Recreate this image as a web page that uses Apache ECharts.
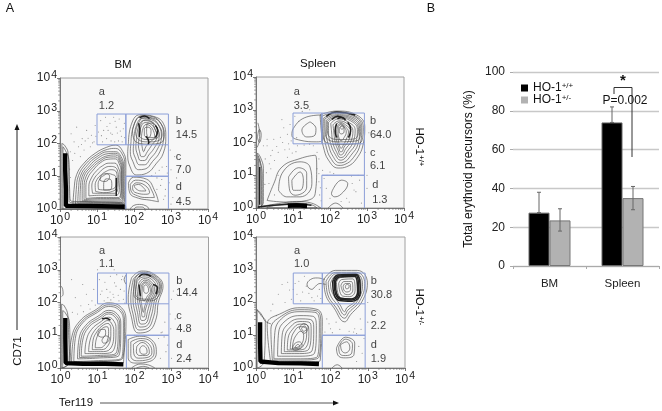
<!DOCTYPE html>
<html><head><meta charset="utf-8">
<style>html,body{margin:0;padding:0;background:#fff}#c{width:662px;height:411px}</style>
<script src="https://cdn.jsdelivr.net/npm/echarts@6/dist/echarts.min.js"></script>
</head><body><div id="c"></div>
<script>
// Flow panels: coordinates are hundredths of a decade (100 = 10^1)
const decadeTicks=['0','1','2','3','4'];
const minorLogs=[30,48,60,70,78,85,90,95,130,148,160,170,178,185,190,195,230,248,260,270,278,285,290,295,330,348,360,370,378,385,390,395];
const gateA=[100,196,178,196,178,290,100,290,100,196];
const gateB=[178,196,293,196,293,290,178,290,178,196];
const gateC=[178,100,293,100,293,196];
const gateD=[178,0,178,100,293,100,293,0];

const p1Labels=[['a',105,357],['1.2',105,315],['b',313,270],['14.5',313,227],['c',313,160],['7.0',313,119],['d',313,66],['4.5',313,22]];
const p2Labels=[['a',102,355],['3.5',102,312],['b',308,265],['64.0',308,222],['c',308,168],['6.1',308,128],['d',314,70],['1.3',314,26]];
const p3Labels=[['a',104,358],['1.1',104,318],['b',313,265],['14.4',313,228],['c',313,160],['4.8',313,120],['d',313,70],['2.4',313,28]];
const p4Labels=[['a',102,358],['1.0',102,318],['b',308,265],['30.8',308,222],['c',308,168],['2.2',308,128],['d',308,70],['1.9',308,28]];

const p1Contours=[
[35,10,38,60,45,105,65,140,95,170,125,188,150,195,170,175,178,140,177,60,175,15,100,12],
[42,14,44,60,50,102,70,138,98,165,128,182,150,185,168,168,175,135,175,65,172,18,100,16],
[48,18,50,60,55,100,75,135,100,160,130,175,150,175,165,160,172,130,172,70,168,20,100,20],
[54,22,55,60,60,100,80,132,102,155,130,169,150,170,164,154,170,125,170,70,166,24,105,24],
[60,25,60,60,65,100,85,130,105,150,130,163,150,165,163,148,168,120,168,70,163,28,110,28],
[65,28,65,62,70,98,88,126,108,146,130,158,150,159,162,143,166,118,166,70,160,32,110,32],
[70,32,70,65,75,95,92,122,110,142,130,152,150,153,160,138,165,115,165,70,158,35,110,35],
[78,40,78,68,85,95,100,118,115,132,132,140,148,140,158,125,162,105,161,70,152,42,110,42],
[88,48,86,70,92,92,105,110,120,125,135,130,148,128,156,115,158,95,157,70,148,48,115,48],
[96,54,95,72,100,90,112,105,125,115,138,120,148,118,154,105,155,85,153,65,142,54,118,50],
[104,60,103,75,108,92,118,102,130,108,142,105,150,100,152,85,150,68,138,60,120,58],
[108,88,112,102,125,108,134,100,130,88,118,84],
[118,58,118,75,125,92,137,90,140,72,134,58],
[185,201,191,252,216,288,252,283,279,262,286,221,279,170,261,140,234,109,207,104,189,130,183,170],
[192,205,198,250,218,282,250,278,274,258,280,222,270,175,250,145,230,122,212,120,197,145,190,175],
[200,210,205,250,222,276,248,272,268,252,274,220,262,180,245,155,228,135,215,135,204,155,198,180],
[207,215,212,250,226,270,246,266,262,248,268,220,254,185,240,165,228,148,218,148,210,165,205,190],
[214,220,218,248,230,264,244,260,256,245,262,220,248,195,236,175,226,160,220,160,215,175,212,195],
[220,215,224,245,233,258,243,254,252,240,256,220,244,205,232,190,226,175,222,190],
[196,240,205,270,222,285,250,282,272,262,282,228,272,202,240,198,205,205],
[204,236,212,262,226,279,248,276,266,258,276,226,264,208,238,205,212,212],
[212,232,218,258,230,272,246,268,260,252,268,226,256,214,236,212,218,218],
[234,232,236,262,248,262,256,246,262,226,252,218,240,218],
[228,225,228,245,238,250,246,240,244,222,235,218],
[185,79,198,97,234,91,257,53,266,22,243,27,212,33,189,48],
[190,75,204,88,232,82,250,52,255,35,235,35,210,40,192,55],
[196,70,206,80,230,72,242,50,232,45,210,48,197,58],
[200,72,212,75,228,62,232,55,220,55,205,62],
[5,0,5,200,12,195,22,170,24,100,25,22,60,18,120,18,170,15,176,0],
[8,0,8,190,14,180,24,150,26,60,30,24,100,22,172,18,178,0]
];
const p1Open=[[190,0,198,10,215,14,235,8,240,0],[200,0,208,6,222,6,230,0]];
const p1Bold=[[152,95,152,70,152,40],[215,278,228,284,242,276],[258,255,264,240,258,218],[232,222,240,205,238,196],[212,262,216,240,214,220]];
const p1Black=[[14,170,14,120,16,60,16,10,80,9,175,7]];
const p1Dots=[110,270,118,240,126,215,135,262,141,228,148,205,152,250,160,275,166,222,171,245,115,205,130,240,145,280,158,208,104,235,123,280,155,232,174,262,168,205,138,208,60,215,72,240,50,190,85,225,40,170,92,205,65,180,30,230,82,190,45,250,95,255,55,160,28,175,38,205,300,120,310,160,295,80,320,60,298,180,305,35,290,110,315,95,285,60,275,90,325,130,262,95,300,15,280,30,112,224,127,252,137,232,149,268,163,238,175,218,58,197,68,208,76,216,88,202,97,222,34,148,26,122,28,96,288,130,276,128,268,118,258,110,272,72,284,40,262,60,248,102];

const p2Contours=[
[173,284,218,296,272,284,294,248,290,197,272,151,245,126,222,122,196,146,182,187,178,217],
[183,275,218,289,268,278,286,245,282,197,264,155,240,133,224,130,202,152,189,190,184,225],
[190,268,218,282,262,272,280,242,276,197,256,160,238,140,226,138,208,158,196,192,190,228],
[196,262,220,276,256,266,274,240,270,200,250,166,236,148,228,146,214,164,202,195,196,232],
[202,258,222,272,250,262,268,238,262,200,246,172,236,156,228,154,218,170,208,198,204,236],
[208,254,224,266,246,258,262,236,256,202,242,180,234,164,228,162,222,176,214,200,210,236],
[214,250,226,262,242,254,256,234,250,205,238,186,232,172,228,172,224,184,218,205,214,235],
[220,250,228,258,238,252,250,232,244,210,236,192,230,182,226,190,222,210,218,235],
[222,248,230,256,238,248,244,232,238,215,230,205,224,215,222,232],
[225,245,232,252,238,245,238,232,230,226,225,234],
[228,246,233,250,236,245,232,240],
[178,280,218,292,270,280,290,246,286,205,268,196,225,194,190,200,181,225],
[186,272,218,285,265,275,283,243,279,210,262,204,225,202,196,208,187,232],
[193,265,219,279,259,269,277,241,272,215,256,210,225,209,202,214,193,236],
[176,284,137,278,101,243,97,222,119,207,164,202,179,207],
[146,263,124,238,137,217,159,222,162,243],
[30,23,48,74,70,125,119,151,160,161,164,125,160,44,137,23,83,18],
[61,54,70,105,119,141,146,125,151,74,119,34,83,34],
[88,95,115,123,137,105,137,64,106,39,91,54],
[97,85,119,110,128,85,119,54,101,54],
[209,59,231,85,248,74,236,49,213,34,204,44],
[4,215,9,240,14,225,9,200],
[3,0,4,168,12,155,20,120,20,20,14,5],
[6,0,6,160,12,140,17,100,17,14,12,4],
[8,0,8,150,14,120,15,10],
[15,5,70,15,110,20,150,15,175,0,15,0],
[30,3,70,11,110,15,150,10,165,0,30,0]
];
const p2Open=[[195,0,215,15,235,0],[3,185,8,200,10,225,5,260]];
const p2Bold=[[190,280,218,293,268,284],[205,270,220,280,240,272],[218,258,214,235,218,215],[248,262,256,240,250,215],[10,125,10,60,10,10],[5,3,40,8,70,10,110,13,150,8],[220,272,232,276,242,268]];
const p2Black=[[86,7,110,8,138,6]];
const p2Dots=[60,170,72,200,85,225,50,145,40,120,90,180,30,190,48,210,75,245,95,205,112,190,130,192,145,195,155,190,165,170,60,100,35,75,50,40,165,120,170,80,172,40,105,280,115,265,125,295,190,60,200,30,245,30,270,50,280,85,260,75,230,20,285,15,300,100,295,170,305,230,200,110,180,115,170,150,40,160,110,215,25,150,70,270,85,155,92,255,145,300,300,60,56,188,66,216,78,178,88,196,98,168,108,172,44,176,36,135,28,108,24,72,170,105,174,62,176,22,184,90,192,100,210,105,258,98,276,100,265,55,252,18,30,210,20,190];

const p3Contours=[
[23,10,30,92,52,143,97,179,129,199,165,184,177,143,171,31,169,15,88,15],
[30,15,35,90,56,140,98,174,130,193,162,180,173,141,168,30,90,18],
[36,20,40,90,60,138,100,170,130,188,160,175,170,140,165,30,90,22],
[46,28,50,88,68,130,104,160,130,176,154,164,163,135,158,38,95,30],
[51,32,55,86,72,127,106,155,130,170,152,158,160,132,154,42,98,34],
[56,36,60,85,76,124,108,150,130,165,150,152,156,128,150,45,100,38],
[66,44,70,85,84,118,110,142,130,155,145,142,150,120,142,52,105,44],
[76,50,80,85,92,114,112,135,128,145,140,132,144,112,134,58,108,50],
[86,56,88,85,98,110,112,128,128,136,136,122,136,100,124,62,106,56],
[94,62,96,85,104,106,114,122,126,126,130,112,128,90,116,66,104,62],
[100,100,108,118,120,118,122,104,112,94],
[112,85,122,98,132,92,128,80,116,76],
[192,275,219,296,255,285,277,250,264,199,259,153,237,112,210,107,190,163,183,214],
[197,272,220,289,252,279,270,248,258,200,252,158,234,120,212,116,196,165,190,214],
[202,268,222,283,250,274,264,246,253,202,246,162,232,128,215,125,202,168,196,214],
[207,264,223,278,247,270,259,244,248,205,240,166,230,136,218,134,208,170,202,216],
[212,260,225,273,244,265,254,240,244,208,235,172,228,146,220,145,213,175,208,218],
[216,256,227,268,242,261,250,238,240,212,230,180,226,156,222,156,218,180,212,222],
[219,252,228,263,240,257,246,235,238,216,228,190,224,170,220,190,216,225],
[222,250,228,260,238,253,243,234,235,220,226,205,220,225],
[225,248,230,254,236,248,238,236,232,228,225,234],
[200,270,220,292,254,282,273,250,262,215,240,205,212,208,198,225],
[205,266,222,286,251,277,268,248,256,218,238,210,214,212,203,228],
[183,87,214,97,250,82,259,46,241,20,201,15,183,31],
[190,80,216,90,246,78,253,46,238,26,205,22,190,38],
[197,72,218,84,240,72,247,46,234,32,210,30,198,45],
[206,65,220,78,236,66,240,46,230,38,214,38,205,50],
[214,58,222,68,231,62,234,48,226,42,216,46],
[3,0,3,195,10,190,20,160,22,100,24,18,16,6],
[6,0,6,175,12,170,24,140,26,60,28,20,16,6]
];
const p3Open=[[192,0,215,12,235,10,255,0],[205,0,225,5,240,0],[178,255,172,270,178,285],[3,218,7,225,6,240,2,250]];
const p3Bold=[[112,150,122,152,135,146],[212,278,225,288,245,280],[250,255,262,245,258,225],[212,255,214,235,216,220]];
const p3Black=[[13,153,13,90,14,15,60,13,120,13,170,11]];
const p3Dots=[112,235,120,262,128,215,135,280,142,225,150,250,158,205,165,270,172,235,105,270,118,205,152,285,170,210,40,215,55,190,70,225,85,205,32,170,90,240,60,255,300,210,310,150,298,120,290,70,305,235,282,140,275,110,265,90,285,50,300,30,200,100,238,100,270,30,100,300,145,300,30,270,80,180,108,225,125,240,136,208,146,260,156,222,162,240,168,280,174,198,134,232,144,216,46,165,62,172,76,194,94,192,272,108,280,95,296,165,315,225];

const p4Contours=[
[39,20,30,133,70,168,119,184,164,179,178,143,173,31,169,20],
[44,24,40,118,69,159,118,178,161,175,174,141,169,33,110,24],
[48,28,50,100,68,150,118,172,158,170,170,140,165,35,110,28],
[58,36,60,100,75,140,118,160,152,158,162,130,157,45,110,36],
[68,44,70,98,84,132,118,150,146,148,155,125,150,52,110,44],
[76,50,78,95,92,125,118,142,142,140,148,120,142,58,110,50],
[84,55,86,90,98,118,118,134,136,132,142,112,134,62,108,55],
[92,58,94,85,102,110,118,126,132,124,136,106,126,66,108,58],
[98,60,100,80,108,100,120,112,128,100,120,70],
[98,58,102,72,116,80,124,70,116,58,104,54],
[104,62,112,72,118,66,110,60],
[122,122,130,128,136,120,128,112],
[116,122,128,136,140,125,130,106],
[182,270,213,298,272,298,299,260,285,204,254,163,238,141,209,184,187,224],
[188,265,214,292,270,292,292,258,278,204,250,170,238,152,214,186,192,226],
[194,262,216,288,268,288,286,256,272,204,246,176,238,162,220,190,198,228],
[200,258,218,284,268,284,282,252,266,204,244,184,238,172,226,192,204,232],
[216,262,226,276,264,278,272,232,256,212,228,214],
[222,258,230,270,260,272,266,236,252,218,232,220],
[228,252,236,264,256,264,260,238,248,224,236,228],
[234,250,240,258,252,258,254,240,244,232,236,238],
[240,250,244,255,250,252,249,244,242,242],
[227,71,243,80,252,61,240,46,230,53],
[216,61,240,94,265,76,263,41,240,31,222,36],
[222,64,240,88,259,72,257,46,240,38,226,42],
[3,0,3,178,14,160,25,143,22,20,14,6]
];
const p4Open=[[185,270,165,275,146,270,137,255,150,240,160,250,172,258,187,255],[204,0,218,10,231,0],[3,178,14,165,25,143,40,135]];
const p4Bold=[[208,270,220,284,268,286,280,230,258,204,224,206,206,262,208,270],[211,268,222,281,267,283,276,230,257,208,226,210,210,262,211,268],[214,266,224,278,265,280,273,231,256,211,227,213,213,262,214,266]];
const p4Black=[[11,140,11,80,12,20,60,15,120,14,169,12]];
const p4Dots=[70,255,85,262,100,240,60,225,120,205,135,250,110,225,150,215,165,220,170,240,130,280,95,210,78,200,45,195,300,140,280,150,265,120,290,90,270,105,200,120,215,140,190,150,185,110,285,45,270,20,300,200,115,265,55,160,40,175,125,232,142,228,156,205,174,212,105,258,90,238,196,135,205,108,225,118,250,112,282,118,276,66,262,110];

// Bar panel values
const barCategories=['BM','Spleen'];
const wildValues=[27.5,74];
const hetValues=[23.5,35];
const wildHigh=[38,82];
const wildLow=[27.5,74];
const hetHigh=[29.5,41];
const hetLow=[18,29];
const yTicks=[0,20,40,60,80,100];

const toPairs=f=>{const o=[];for(let i=0;i<f.length;i+=2)o.push([f[i],f[i+1]]);return o;};
const closed=f=>{const p=toPairs(f);p.push(p[0]);return p;};

const panelGrids=[
 {left:60,top:78,width:148,height:131},
 {left:256,top:77,width:148,height:131},
 {left:60.5,top:237,width:148,height:131},
 {left:256,top:237,width:149,height:131}
];
const panelData=[
 [p1Contours,p1Open,p1Bold,p1Black,p1Dots,p1Labels],
 [p2Contours,p2Open,p2Bold,p2Black,p2Dots,p2Labels],
 [p3Contours,p3Open,p3Bold,p3Black,p3Dots,p3Labels],
 [p4Contours,p4Open,p4Bold,p4Black,p4Dots,p4Labels]
];
const FONT='"Liberation Sans",Arial,sans-serif';
const grids=[],xAxes=[],yAxes=[],series=[];
const line=(i,data,color,w,smooth,z)=>series.push({type:'line',xAxisIndex:i,yAxisIndex:i,data,showSymbol:false,symbol:'none',silent:true,animation:false,smooth:smooth?0.45:false,z:z||3,lineStyle:{color,width:w}});
const supRich={s:{fontSize:10.5,fontFamily:FONT,color:'#222',verticalAlign:'bottom',padding:[0,0,6,1]}};

panelGrids.forEach((g,i)=>{
 grids.push({...g,show:true,backgroundColor:'#f7f7f7',borderColor:'#a0a0a0',borderWidth:1,containLabel:false});
 const base={type:'value',min:0,max:400,interval:100,splitLine:{show:false},
  axisLine:{show:true,onZero:false,lineStyle:{color:'#777',width:1}},axisTick:{show:true,length:3,lineStyle:{color:'#555',width:.8}},
  axisLabel:{color:'#222',fontSize:12,fontFamily:FONT,formatter:v=>'10{s|'+decadeTicks[v/100]+'}',rich:supRich}};
 xAxes.push({...base,gridIndex:i,axisLabel:{...base.axisLabel,margin:3}});
 yAxes.push({...base,gridIndex:i,axisLabel:{...base.axisLabel,margin:3}});
 const [cont,open,bold,black,dots,labels]=panelData[i];
 series.push({type:'scatter',xAxisIndex:i,yAxisIndex:i,data:toPairs(dots),symbolSize:1.1,itemStyle:{color:'#777'},silent:true,animation:false,z:2});
 cont.forEach(c=>line(i,closed(c),'#4a4a4a',.65,true));
 open.forEach(c=>line(i,toPairs(c),'#4a4a4a',.65,true));
 bold.forEach(c=>line(i,toPairs(c),'#222',1.5,true,4));
 black.forEach(c=>line(i,toPairs(c),'#000',4.4,false,4));
 [gateA,gateB,gateC,gateD].forEach(c=>line(i,toPairs(c),'#8c9fd8',1,false,5));
 series.push({type:'custom',xAxisIndex:i,yAxisIndex:i,data:minorLogs,silent:true,animation:false,clip:false,z:2,
  encode:{x:0},renderItem:(p,api)=>{const v=api.value(0);const a=api.coord([v,0]);const b=api.coord([0,v]);
   const st={stroke:'#666',lineWidth:.6};
   return {type:'group',children:[{type:'line',shape:{x1:a[0],y1:a[1],x2:a[0],y2:a[1]+2},style:st},{type:'line',shape:{x1:b[0],y1:b[1],x2:b[0]-2,y2:b[1]},style:st}]};}});
 series.push({type:'scatter',xAxisIndex:i,yAxisIndex:i,symbolSize:0,silent:true,animation:false,clip:false,z:6,
  data:labels.map(l=>({value:[l[1],l[2]],name:l[0]})),
  label:{show:true,position:'inside',align:'left',verticalAlign:'middle',formatter:'{b}',fontSize:11,fontFamily:FONT,color:'#111'}});
});

// Bar panel
const B=4;
grids.push({left:513,top:72,width:146,height:194});
xAxes.push({type:'category',gridIndex:B,data:barCategories,axisLine:{lineStyle:{color:'#aaa'}},axisTick:{show:true,length:3,lineStyle:{color:'#aaa'}},axisLabel:{color:'#222',fontSize:11.5,fontFamily:FONT,margin:12}});
yAxes.push({type:'value',gridIndex:B,min:yTicks[0],max:yTicks[yTicks.length-1],interval:20,axisLine:{show:false},axisTick:{show:true,length:3,lineStyle:{color:'#aaa'}},splitLine:{show:true,lineStyle:{color:'#c8c8c8',width:1.3}},axisLabel:{color:'#222',fontSize:12,fontFamily:FONT,margin:8}});
const barBase={type:'bar',xAxisIndex:B,yAxisIndex:B,barWidth:21,barGap:'0%',animation:false,silent:true,z:3};
series.push({...barBase,name:'HO-1+/+',data:wildValues,itemStyle:{color:'#000',borderColor:'#666',borderWidth:1}});
series.push({...barBase,name:'HO-1+/-',data:hetValues,itemStyle:{color:'#b2b2b2',borderColor:'#777',borderWidth:1}});
const errSeries=(hi,lo,off)=>series.push({type:'custom',xAxisIndex:B,yAxisIndex:B,silent:true,animation:false,z:5,
 data:hi.map((h,i)=>[i,h,lo[i]]),encode:{x:0,y:[1,2]},renderItem:(p,api)=>{
  const a=api.coord([api.value(0),api.value(1)]),b=api.coord([api.value(0),api.value(2)]);const x=a[0]+off;const st={stroke:'#666',lineWidth:1};
  return {type:'group',children:[{type:'line',shape:{x1:x,y1:a[1],x2:x,y2:b[1]},style:st},{type:'line',shape:{x1:x-2,y1:a[1],x2:x+2,y2:a[1]},style:st},{type:'line',shape:{x1:x-2,y1:b[1],x2:x+2,y2:b[1]},style:st}]};}});
errSeries(wildHigh,wildLow,-10.5);errSeries(hetHigh,hetLow,10.5);

const txt=(x,y,text,o={})=>({type:'text',x,y,rotation:o.rot||0,z:20,silent:true,style:{text,fontSize:o.size||11.5,fontWeight:o.weight||'normal',fontFamily:FONT,fill:o.fill||'#111',align:o.align||'center',verticalAlign:'middle',rich:{s:{fontSize:o.sup||8,fontFamily:FONT,fill:'#111',verticalAlign:'bottom',padding:[0,0,4,0]}}}});
const poly=(pts,o={})=>({type:'polyline',z:19,silent:true,shape:{points:pts},style:{stroke:o.c||'#222',lineWidth:o.w||1,fill:null}});
const graphic=[
 txt(10,9,'A',{size:12.5}),txt(431,9,'B',{size:12.5}),
 txt(123,65,'BM'),txt(318,64,'Spleen'),
 txt(419,147,'HO-1{s|+/+}',{rot:-Math.PI/2}),txt(419,307,'HO-1{s|+/-}',{rot:-Math.PI/2}),
 txt(18,351,'CD71',{rot:Math.PI/2}),
 txt(76,403,'Ter119'),
 poly([[17,330],[17,128]]),{type:'polygon',z:19,silent:true,shape:{points:[[17,124],[14.5,130],[19.5,130]]},style:{fill:'#111'}},
 poly([[100,403],[334,403]],{c:'#555'}),{type:'polygon',z:19,silent:true,shape:{points:[[339,403],[333,400.5],[333,405.5]]},style:{fill:'#111'}},
 txt(469,169,'Total erythroid precursors (%)',{rot:Math.PI/2,size:12}),
 txt(623,81,'*',{size:15,weight:'bold'}),
 txt(625,101,'P=0.002',{size:12}),
 poly([[614,94],[614,87.5],[632,87.5],[632,157]],{c:'#333'})
];

const chart=echarts.init(document.getElementById('c'),null,{renderer:'canvas'});
chart.setOption({animation:false,backgroundColor:'#fff',grid:grids,xAxis:xAxes,yAxis:yAxes,series,graphic,
 legend:{show:true,data:['HO-1+/+','HO-1+/-'],orient:'vertical',left:516,top:77,itemWidth:7,itemHeight:7,itemGap:0,selectedMode:false,icon:'rect',itemStyle:{borderWidth:0},
  formatter:n=>'HO-1{s|'+n.slice(4)+'}',textStyle:{fontSize:12,fontFamily:FONT,color:'#111',rich:{s:{fontSize:8,fontFamily:FONT,color:'#111',verticalAlign:'bottom',padding:[0,0,4,0]}}}}});
</script></body></html>
